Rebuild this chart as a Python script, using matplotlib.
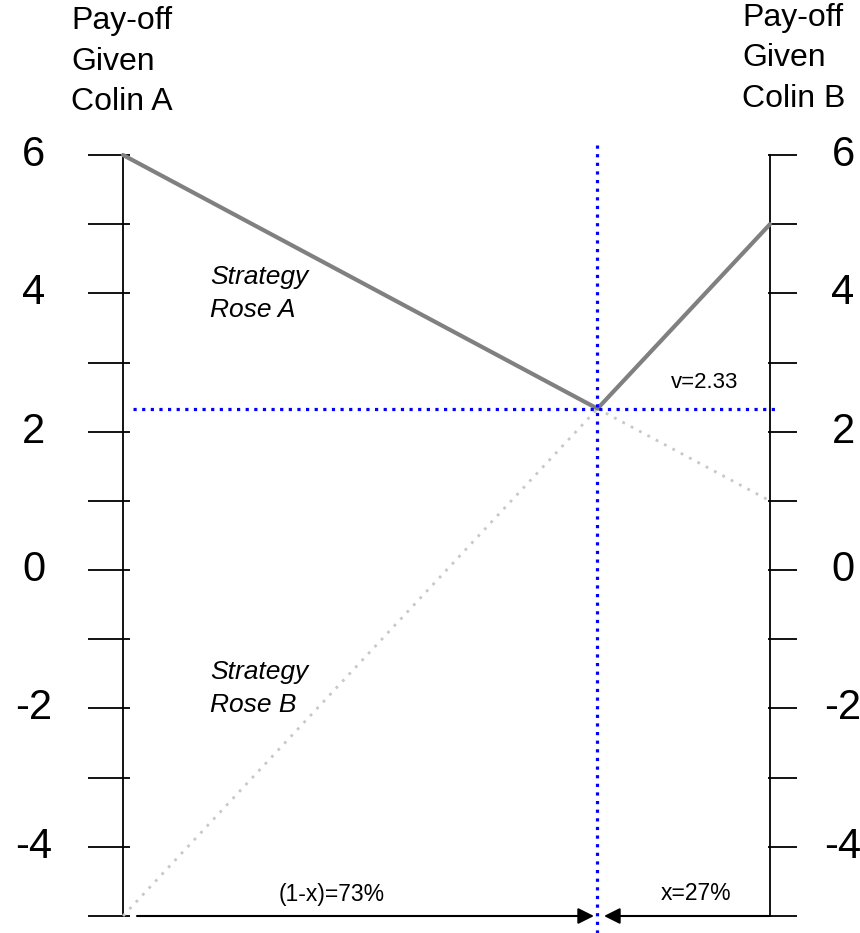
import matplotlib
matplotlib.use("Agg")
import matplotlib.pyplot as plt

# pay-offs of Rose's two strategies, given Colin A (left) and Colin B (right)
rose_a = [6, 1]
rose_b = [-5, 5]
tick_vals = list(range(-5, 7))
label_vals = [6, 4, 2, 0, -2, -4]

# mixing point where the two strategy lines cross
x_star = (rose_a[0] - rose_b[0]) / ((rose_a[0] - rose_b[0]) - (rose_a[1] - rose_b[1]))
v_star = rose_a[0] + (rose_a[1] - rose_a[0]) * x_star

plt.rcParams['font.family'] = ['Liberation Sans', 'DejaVu Sans']

W, H = 860, 933
fig = plt.figure(figsize=(W / 100, H / 100), dpi=100)
ax = fig.add_axes([0, 0, 1, 1])
# x: 0 -> pixel 123, 1 -> pixel 770 ; y: 6 -> pixel 155, -5 -> pixel 916
sx = 647.0
sy = 761.0 / 11
ax.set_xlim(-123 / sx, (W - 123) / sx)
ax.set_ylim(6 - (H - 155) / sy, 6 + 155 / sy)
ax.axis('off')


def px(x):
    return (x - 123) / sx


def py(y):
    return 6 - (y - 155) / sy


# the two vertical axes
ax.plot([0, 0], [tick_vals[0], tick_vals[-1]], color='black', lw=1.3)
ax.plot([1, 1], [tick_vals[0], tick_vals[-1]], color='black', lw=1.3)
ax.hlines(tick_vals, px(88), px(130), color='black', lw=1.3)
ax.hlines(tick_vals, px(768), px(797), color='black', lw=1.3)
for v in label_vals:
    ax.text(px(34), v, str(v), fontsize=30, ha='center', va='center')
    ax.text(px(843), v, str(v), fontsize=30, ha='center', va='center')

for i, line in enumerate(["Pay-off", "Given", "Colin A"]):
    ax.text(px(71), py(29 + 40.5 * i), line, fontsize=23, ha='left', va='baseline')
for i, line in enumerate(["Pay-off", "Given", "Colin B"]):
    ax.text(px(742), py(26 + 40.5 * i), line, fontsize=23, ha='left', va='baseline')

# strategy lines: upper envelope solid, the rest dotted
ax.plot([0, x_star], [rose_b[0], v_star], color='#c8c8c8', lw=2, ls=(0, (1, 2.4)))
ax.plot([x_star, 1], [v_star, rose_a[1]], color='#c8c8c8', lw=2, ls=(0, (1, 2.4)))
ax.plot([0, x_star, 1], [rose_a[0], v_star, rose_b[1]], color='#808080', lw=3,
        solid_capstyle='round')

# value and mix guides
ax.plot([px(133), px(778)], [v_star, v_star], color='#0000ff', lw=2.3,
        ls=(0, (1, 1.7)))
ax.plot([x_star, x_star], [py(145), py(933)], color='#0000ff', lw=2.3,
        ls=(0, (1, 1.7)))

for i, line in enumerate(["Strategy", "Rose A"]):
    ax.text(px(210), py(284 + 33 * i), line, fontsize=19, style='italic',
            ha='left', va='baseline')
for i, line in enumerate(["Strategy", "Rose B"]):
    ax.text(px(210), py(679 + 33 * i), line, fontsize=19, style='italic',
            ha='left', va='baseline')
ax.text(px(705), py(388), "v=%.2f" % v_star, fontsize=16, ha='center', va='baseline')

# arrows along the bottom
ax.annotate("", xy=(px(594), -5), xytext=(px(137), -5),
            arrowprops=dict(arrowstyle='-|>', color='black', lw=1.5, mutation_scale=24,
                            shrinkA=0, shrinkB=0))
ax.annotate("", xy=(px(604), -5), xytext=(1, -5),
            arrowprops=dict(arrowstyle='-|>', color='black', lw=1.5, mutation_scale=24,
                            shrinkA=0, shrinkB=0))
ax.text(px(332), py(901), "(1-x)=%d%%" % round(100 * x_star), fontsize=16.5,
        ha='center', va='baseline')
ax.text(px(696), py(900), "x=%d%%" % round(100 * (1 - x_star)), fontsize=16.5,
        ha='center', va='baseline')

fig.savefig("out.png", dpi=100, facecolor='white')
